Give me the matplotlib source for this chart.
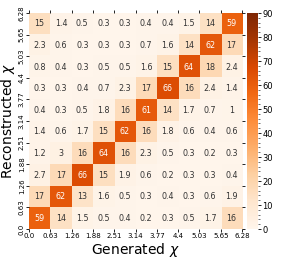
import numpy as np
import matplotlib
matplotlib.use('Agg')
import matplotlib.pyplot as plt
from matplotlib.ticker import MultipleLocator

# Confusion matrix in %, rows from bottom (0.0-0.63) to top (5.65-6.28)
rows = [
    [59, 14, 1.5, 0.5, 0.4, 0.2, 0.3, 0.5, 1.7, 16],
    [17, 62, 13, 1.6, 0.5, 0.3, 0.4, 0.3, 0.6, 1.9],
    [2.7, 17, 66, 15, 1.9, 0.6, 0.2, 0.3, 0.3, 0.4],
    [1.2, 3, 16, 64, 16, 2.3, 0.5, 0.3, 0.2, 0.3],
    [1.4, 0.6, 1.7, 15, 62, 16, 1.8, 0.6, 0.4, 0.6],
    [0.4, 0.3, 0.5, 1.8, 16, 61, 14, 1.7, 0.7, 1],
    [0.3, 0.3, 0.4, 0.7, 2.3, 17, 66, 16, 2.4, 1.4],
    [0.8, 0.4, 0.3, 0.5, 0.5, 1.6, 15, 64, 18, 2.4],
    [2.3, 0.6, 0.3, 0.3, 0.3, 0.7, 1.6, 14, 62, 17],
    [15, 1.4, 0.5, 0.3, 0.3, 0.4, 0.4, 1.5, 14, 59],
]
edge_labels = ['0.0', '0.63', '1.26', '1.88', '2.51', '3.14',
               '3.77', '4.4', '5.03', '5.65', '6.28']
vmin, vmax = 0, 90

z = np.array(rows)
n = z.shape[0]

fig = plt.figure(figsize=(2.91, 2.59), dpi=100)
ax = fig.add_axes([0.0997, 0.1158, 0.732, 0.834])
cax = fig.add_axes([0.849, 0.1158, 0.0378, 0.834])

im = ax.imshow(z, cmap='Oranges', vmin=vmin, vmax=vmax, origin='lower',
               extent=(0, n, 0, n), aspect='auto', interpolation='nearest')

for i in range(n):
    for j in range(n):
        v = z[i, j]
        txt = '%g' % v
        color = 'white' if v > 45 else '#333333'
        ax.text(j + 0.5, i + 0.5, txt, ha='center', va='center',
                fontsize=5.8, color=color)

ax.set_xticks(np.arange(n + 1))
ax.set_yticks(np.arange(n + 1))
ax.set_xticklabels(edge_labels, fontsize=5)
ax.set_yticklabels(edge_labels, fontsize=5, rotation=90, va='center')
ax.tick_params(length=2, width=0.6, pad=1, top=True, right=True)
for s in ax.spines.values():
    s.set_visible(False)

ax.set_xlabel('Generated $\\chi$', fontsize=10, labelpad=1)
ax.set_ylabel('Reconstructed $\\chi$', fontsize=10, labelpad=1)

cb = fig.colorbar(im, cax=cax)
cb.set_ticks(np.arange(0, 91, 10))
cb.ax.yaxis.set_minor_locator(MultipleLocator(2))
cb.ax.tick_params(labelsize=6, length=2, width=0.6, pad=1)
cb.ax.tick_params(which='minor', length=1.2, width=0.4)
cb.outline.set_visible(False)

plt.savefig('out.png', dpi=100)
